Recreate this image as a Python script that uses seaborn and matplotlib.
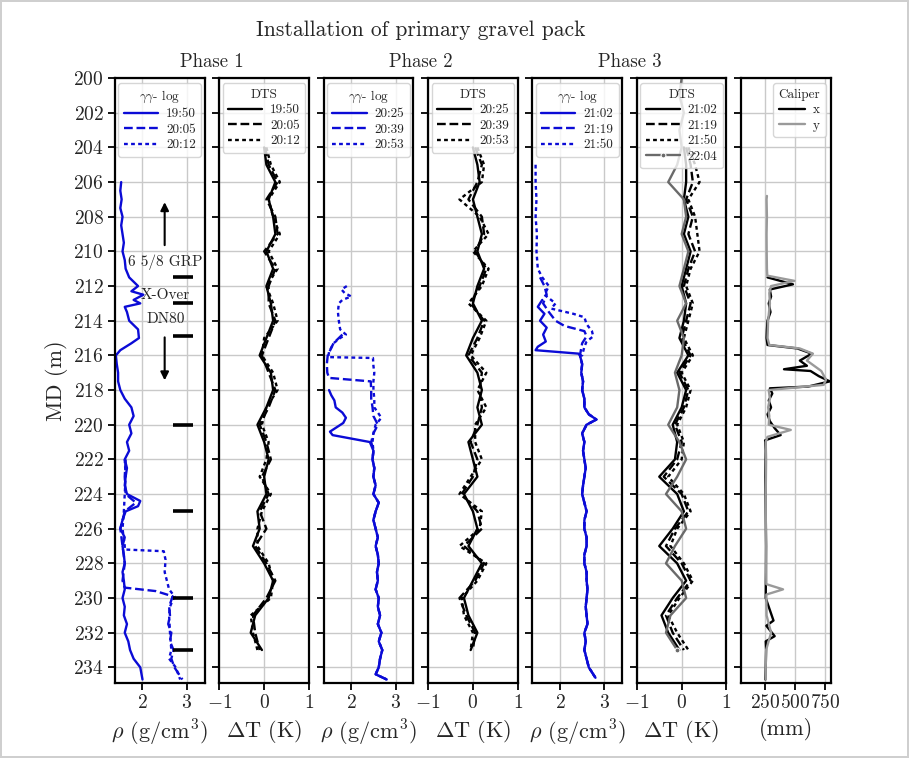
import numpy as np
import pandas as pd
import matplotlib
matplotlib.use("Agg")
import matplotlib.pyplot as plt
import seaborn as sns

# ---------------- data ----------------
md_ticks = list(range(200, 236, 2))

# Phase 1 density logs
p1_1950_md = [206, 206.5, 207, 207.5, 208, 208.5, 209, 209.5, 210, 210.5, 211, 211.5, 212, 212.3, 212.5,
              212.8, 213, 213.2, 213.5, 214, 214.5, 215, 215.3, 215.7, 216, 216.5, 217, 217.5, 218, 218.5,
              219, 219.5, 220, 220.5, 221, 221.5, 222, 222.5, 223, 223.5, 224, 224.4, 224.7, 225, 225.5,
              226, 226.5, 227, 227.5, 228, 228.5, 229, 229.5, 230, 230.5, 231, 231.5, 232, 232.5, 233,
              233.5, 234, 234.7]
p1_1950_rho = [1.52, 1.50, 1.53, 1.50, 1.55, 1.52, 1.55, 1.58, 1.55, 1.60, 1.62, 1.70, 1.90, 1.75, 2.02,
               1.80, 1.95, 1.60, 1.65, 1.70, 1.90, 1.92, 1.75, 1.50, 1.40, 1.42, 1.45, 1.45, 1.50, 1.60,
               1.75, 1.80, 1.70, 1.75, 1.65, 1.70, 1.60, 1.65, 1.62, 1.60, 1.65, 1.95, 1.90, 1.62, 1.55,
               1.50, 1.60, 1.55, 1.58, 1.60, 1.55, 1.58, 1.60, 1.55, 1.60, 1.58, 1.65, 1.60, 1.68, 1.72,
               1.80, 1.95, 2.00]
p1_2005_md = [222, 223, 224, 224.5, 225, 226, 227, 228, 229, 229.4, 229.6, 229.9, 230.5, 231, 231.5,
              232, 232.5, 233, 233.5, 234, 234.7]
p1_2005_rho = [1.62, 1.60, 1.62, 1.85, 1.60, 1.50, 1.55, 1.60, 1.55, 1.60, 2.30, 2.68, 2.60, 2.62, 2.58,
               2.65, 2.62, 2.70, 2.65, 2.72, 2.90]
p1_2012_md = [222, 223, 224, 225, 226, 227, 227.2, 227.3, 227.8, 228.5, 229, 229.5, 229.9, 230.5, 231,
              232, 233, 233.5, 234, 234.7]
p1_2012_rho = [1.60, 1.62, 1.60, 1.58, 1.55, 1.60, 1.60, 2.48, 2.52, 2.50, 2.55, 2.60, 2.72, 2.62, 2.60,
               2.62, 2.65, 2.60, 2.75, 2.85]

# Phase 2 density logs
p2_deep_md = [221.5, 222, 222.5, 223, 223.5, 224, 224.5, 225, 225.5, 226, 226.5, 227, 227.5, 228, 228.5,
              229, 229.5, 230, 230.5, 231, 231.5, 232, 232.5, 233, 233.5, 234, 234.4, 234.7]
p2_deep_rho = [2.50, 2.48, 2.52, 2.50, 2.55, 2.50, 2.62, 2.55, 2.50, 2.55, 2.60, 2.55, 2.60, 2.62, 2.58,
               2.60, 2.55, 2.62, 2.60, 2.65, 2.60, 2.68, 2.62, 2.70, 2.65, 2.62, 2.55, 2.80]
p2_2025_md = [218, 218.3, 218.6, 219, 219.3, 219.6, 219.9, 220.1, 220.4, 220.6, 221]
p2_2025_rho = [1.50, 1.55, 1.62, 1.65, 1.80, 1.88, 1.82, 1.70, 1.52, 1.58, 2.42]
p2_2039_md = [214.8, 215.3, 216, 216.5, 217, 217.3, 217.5, 218, 218.5, 219, 219.5, 220, 220.5, 221]
p2_2039_rho = [1.80, 1.60, 1.47, 1.45, 1.46, 1.50, 2.44, 2.45, 2.45, 2.48, 2.50, 2.60, 2.50, 2.45]
p2_2053_md = [212, 212.2, 212.4, 212.6, 212.8, 213, 213.5, 214, 214.5, 214.8, 215, 215.3, 215.8, 216.1,
              216.15, 216.6, 217, 217.5, 218, 218.5, 219, 219.6, 220, 220.5, 221]
p2_2053_rho = [1.90, 1.78, 1.85, 2.00, 1.80, 1.72, 1.70, 1.72, 1.75, 1.88, 1.75, 1.60, 1.50, 1.48,
               2.49, 2.50, 2.52, 2.50, 2.50, 2.52, 2.52, 2.68, 2.55, 2.50, 2.48]

# Phase 3 density logs
p3_deep_md = [216, 216.5, 217, 217.5, 218, 218.5, 219, 219.4, 219.7, 220, 220.5, 221, 221.5, 222, 222.5,
              223, 223.5, 224, 224.5, 225, 225.5, 226, 226.5, 227, 227.5, 228, 228.5, 229, 229.5, 230,
              230.5, 231, 231.5, 232, 232.5, 233, 233.5, 234, 234.6]
p3_deep_rho = [2.45, 2.50, 2.48, 2.52, 2.50, 2.55, 2.55, 2.65, 2.82, 2.60, 2.50, 2.55, 2.52, 2.55, 2.58,
               2.55, 2.52, 2.50, 2.55, 2.60, 2.55, 2.55, 2.60, 2.60, 2.55, 2.55, 2.60, 2.60, 2.62, 2.60,
               2.58, 2.60, 2.62, 2.55, 2.58, 2.55, 2.60, 2.65, 2.80]
p3_2102_md = [212.8, 213.2, 213.6, 214, 214.4, 214.8, 215.2, 215.5, 215.7, 215.9]
p3_2102_rho = [1.60, 1.50, 1.65, 1.55, 1.70, 1.62, 1.68, 1.50, 1.45, 2.42]
p3_2119_md = [211.5, 212, 212.5, 213, 213.5, 214, 214.3, 214.6, 214.9, 215.3, 216]
p3_2119_rho = [1.55, 1.65, 1.70, 1.62, 1.75, 1.90, 2.10, 2.55, 2.60, 2.50, 2.45]
p3_2150_md = [205, 206, 207, 208, 209, 210, 211, 211.5, 212, 212.5, 213, 213.3, 213.6, 213.8, 214.2,
              214.6, 214.9, 215.2, 215.5, 216]
p3_2150_rho = [1.45, 1.45, 1.47, 1.45, 1.48, 1.47, 1.50, 1.60, 1.75, 1.65, 1.90, 1.80, 2.30, 2.55, 2.60,
               2.72, 2.75, 2.60, 2.55, 2.50]

# DTS temperature differences
dts_md = list(range(204, 234))
p1_dts_1950 = [0.0, 0.05, 0.25, 0.1, 0.2, 0.25, 0.05, 0.2, 0.05, 0.15, 0.2, 0.05, -0.1, 0.15, 0.2,
               0.05, -0.15, 0.0, 0.1, 0.0, 0.05, -0.15, -0.1, -0.25, 0.0, 0.2, 0.1, -0.2, -0.3, -0.05]
p1_dts_2005 = [0.02, 0.1, 0.3, 0.05, 0.25, 0.3, 0.0, 0.25, 0.1, 0.1, 0.25, 0.1, -0.05, 0.1, 0.25,
               0.1, -0.1, 0.05, 0.15, -0.05, 0.1, -0.1, 0.05, -0.2, 0.05, 0.25, 0.05, -0.25, -0.2, -0.1]
p1_dts_2012 = [0.05, 0.15, 0.35, 0.1, 0.2, 0.35, 0.1, 0.3, 0.05, 0.2, 0.3, 0.0, -0.05, 0.2, 0.3,
               0.05, -0.05, 0.1, 0.05, -0.1, 0.15, -0.05, -0.15, -0.15, 0.1, 0.2, 0.15, -0.3, -0.25, -0.15]
p2_dts_2025 = [0.0, 0.1, 0.15, 0.0, 0.1, 0.2, 0.1, 0.25, 0.1, 0.0, 0.2, 0.0, -0.15, 0.1, 0.2,
               0.1, 0.2, -0.1, 0.0, 0.1, -0.2, 0.0, 0.1, -0.1, 0.2, 0.0, -0.2, -0.1, 0.1, -0.05]
p2_dts_2039 = [0.05, 0.2, 0.1, -0.1, 0.2, 0.25, 0.05, 0.3, 0.15, -0.05, 0.25, 0.1, -0.1, 0.2, 0.15,
               0.2, 0.1, -0.05, 0.1, 0.0, -0.25, 0.1, 0.2, -0.2, 0.25, 0.05, -0.3, -0.15, 0.05, 0.0]
p2_dts_2053 = [0.1, 0.25, 0.2, -0.3, 0.15, 0.35, 0.0, 0.35, 0.2, -0.1, 0.3, 0.15, -0.05, 0.3, 0.1,
               0.3, 0.05, 0.05, 0.2, -0.05, -0.3, 0.2, 0.15, -0.3, 0.3, 0.1, -0.25, -0.2, 0.0, -0.05]
p3_dts_2102 = [0.05, 0.1, 0.1, 0.05, 0.15, 0.05, 0.2, 0.1, 0.0, 0.1, 0.05, -0.05, 0.15, -0.1, 0.1,
               0.0, -0.2, -0.1, -0.15, -0.5, -0.1, 0.05, -0.2, -0.5, -0.1, 0.1, -0.2, -0.45, -0.3, -0.05]
p3_dts_2119 = [0.1, 0.2, 0.25, 0.1, 0.25, 0.15, 0.3, 0.15, 0.05, 0.2, 0.1, 0.0, 0.2, -0.05, 0.15,
               0.05, -0.15, 0.0, -0.1, -0.4, 0.0, 0.15, -0.15, -0.35, 0.0, 0.2, -0.1, -0.35, -0.2, 0.05]
p3_dts_2150 = [0.15, 0.3, 0.4, 0.15, 0.3, 0.35, 0.4, 0.2, 0.1, 0.25, 0.15, 0.05, 0.25, 0.0, 0.2,
               0.1, -0.1, 0.05, 0.0, -0.3, 0.05, 0.2, -0.1, -0.25, 0.05, 0.25, -0.05, -0.3, -0.1, 0.15]
p3_dts_2204_md = list(range(200, 234))
p3_dts_2204 = [0.0, -0.05, 0.05, -0.05, 0.0, -0.1, -0.3, 0.05, 0.1, 0.0, 0.15, 0.05, -0.05, 0.1, -0.1,
               0.05, 0.0, -0.15, -0.05, -0.1, -0.3, -0.05, 0.1, -0.1, -0.35, 0.0, 0.1, -0.15, -0.35, 0.0,
               0.1, -0.25, -0.35, -0.1]

# Caliper
cal_y_md = [206.8, 207, 208, 209, 210, 211, 211.4, 211.7, 212.0, 212.4, 213, 214, 215, 215.4, 215.6,
            215.9, 216.3, 216.9, 217.4, 217.7, 218.0, 218.5, 219, 219.5, 220.0, 220.3, 220.7, 221, 222,
            224, 226, 228, 229.2, 229.5, 229.8, 231, 232, 233, 234, 234.7]
cal_y_mm = [265, 262, 265, 262, 263, 265, 268, 495, 300, 285, 290, 275, 270, 285, 540,
            650, 600, 720, 760, 740, 280, 290, 275, 285, 280, 465, 270, 255, 258,
            255, 256, 258, 260, 400, 260, 262, 300, 258, 255, 255]
cal_x_md = [211.5, 211.9, 212.2, 212.6, 213, 213.5, 214, 214.5, 215, 215.4, 215.6, 215.9, 216.3, 216.6,
            216.8, 216.9, 217.2, 217.5, 217.8, 217.9, 218.2, 218.6, 219, 219.4, 219.8, 220.2, 220.6,
            220.9, 221.5, 223, 225, 227, 229, 230, 231.3, 231.6, 232.2, 232.5, 233, 234, 234.7]
cal_x_mm = [270, 483, 289, 300, 280, 295, 270, 265, 262, 270, 520, 640, 541, 600,
            408, 630, 700, 791, 610, 290, 310, 280, 300, 270, 290, 330, 380,
            250, 255, 252, 255, 258, 256, 255, 320, 260, 330, 255, 258, 255, 252]

# annotations
marker_md = [211.5, 213.0, 214.9, 220, 225, 230, 233]
annot_labels = ["6 5/8 GRP", "X-Over", "DN80"]
annot_md = [210.6, 212.5, 213.9]

# ---------------- style ----------------
sns.set_theme(style="ticks")
plt.rcParams.update({
    "font.family": ["cmr10", "DejaVu Serif"],
    "mathtext.fontset": "cm",
    "axes.formatter.use_mathtext": True,
    "axes.unicode_minus": True,
})

BLUE = "#0b0bd6"
DOT = (0, (1.6, 1.4))
LW = 1.7
fig, axes = plt.subplots(1, 7, figsize=(9.09, 7.58), dpi=100, sharey=True)
fig.subplots_adjust(left=0.1265, right=0.914, top=0.897, bottom=0.099, wspace=0.165)
fig.patch.set_edgecolor("#cfcfcf")
fig.patch.set_linewidth(1.5)


def draw(ax, x, y, color, ls="-", label=None, lw=LW, **kw):
    df = pd.DataFrame({"v": x, "md": y})
    sns.lineplot(data=df, x="v", y="md", orient="y", sort=False, estimator=None,
                 color=color, linestyle=ls, lw=lw, label=label, ax=ax, **kw)


rho_axes = [axes[0], axes[2], axes[4]]
dts_axes = [axes[1], axes[3], axes[5]]

# Phase 1
draw(axes[0], p1_1950_rho, p1_1950_md, BLUE, "-", "19:50")
draw(axes[0], p1_2005_rho, p1_2005_md, BLUE, "--", "20:05")
draw(axes[0], p1_2012_rho, p1_2012_md, BLUE, DOT, "20:12")
draw(axes[1], p1_dts_1950, dts_md, "black", "-", "19:50")
draw(axes[1], p1_dts_2005, dts_md, "black", "--", "20:05")
draw(axes[1], p1_dts_2012, dts_md, "black", DOT, "20:12")
# Phase 2
draw(axes[2], p2_2025_rho + p2_deep_rho, p2_2025_md + p2_deep_md, BLUE, "-", "20:25")
draw(axes[2], p2_2039_rho + p2_deep_rho, p2_2039_md + p2_deep_md, BLUE, "--", "20:39")
draw(axes[2], p2_2053_rho + p2_deep_rho, p2_2053_md + p2_deep_md, BLUE, DOT, "20:53")
draw(axes[3], p2_dts_2025, dts_md, "black", "-", "20:25")
draw(axes[3], p2_dts_2039, dts_md, "black", "--", "20:39")
draw(axes[3], p2_dts_2053, dts_md, "black", DOT, "20:53")
# Phase 3
draw(axes[4], p3_2102_rho + p3_deep_rho, p3_2102_md + p3_deep_md, BLUE, "-", "21:02")
draw(axes[4], p3_2119_rho + p3_deep_rho, p3_2119_md + p3_deep_md, BLUE, "--", "21:19")
draw(axes[4], p3_2150_rho + p3_deep_rho, p3_2150_md + p3_deep_md, BLUE, DOT, "21:50")
draw(axes[5], p3_dts_2102, dts_md, "black", "-", "21:02")
draw(axes[5], p3_dts_2119, dts_md, "black", "--", "21:19")
draw(axes[5], p3_dts_2150, dts_md, "black", DOT, "21:50")
draw(axes[5], p3_dts_2204, p3_dts_2204_md, "#6a6a6a", "-", "22:04",
     marker="o", markersize=3.5, markevery=[len(p3_dts_2204) - 1])
# Caliper
draw(axes[6], cal_x_mm, cal_x_md, "black", "-", "x")
draw(axes[6], cal_y_mm, cal_y_md, "#9a9a9a", "-", "y")

# markers & annotations in panel 1
for m in marker_md:
    axes[0].plot([2.68, 3.14], [m, m], color="black", lw=2.6, solid_capstyle="butt")
for t, m in zip(annot_labels, annot_md):
    axes[0].text(2.52, m, t, ha="center", va="center", fontsize=11)
axes[0].annotate("", xy=(2.5, 207.0), xytext=(2.5, 209.8),
                 arrowprops=dict(arrowstyle="-|>", color="black", lw=1.5, mutation_scale=12))
axes[0].annotate("", xy=(2.5, 217.6), xytext=(2.5, 214.8),
                 arrowprops=dict(arrowstyle="-|>", color="black", lw=1.5, mutation_scale=12))

# axes formatting
for ax in axes:
    ax.set_ylim(234.9, 200)
    ax.set_yticks(md_ticks)
    ax.grid(True, color="#c9c9c9", lw=1.0)
    for s in ax.spines.values():
        s.set_linewidth(1.6)
        s.set_color("black")
    ax.tick_params(direction="out", length=5, width=1.3, labelsize=14, color="black", pad=3)
    ax.set_ylabel("")

for ax in rho_axes:
    ax.set_xlim(1.38, 3.4)
    ax.set_xticks([2, 3])
    ax.set_xlabel(r"$\rho$ (g/cm$^3$)", fontsize=16)
for ax in dts_axes:
    ax.set_xlim(-1, 1)
    ax.set_xticks([-1, 0, 1])
    ax.set_xlabel(r"$\Delta$T (K)", fontsize=16)
axes[6].set_xlim(50, 800)
axes[6].set_xticks([250, 500, 750])
axes[6].set_xlabel("(mm)", fontsize=16)

axes[0].set_ylabel("MD (m)", fontsize=16)
for ax in axes[1:]:
    ax.tick_params(axis="y", labelleft=False)

leg_kw = dict(loc="upper center", fontsize=9.5, title_fontsize=9.5, framealpha=0.8,
              handlelength=2.6, borderaxespad=0.4, labelspacing=0.25, handletextpad=0.6)
for ax in rho_axes:
    ax.legend(title=r"$\gamma\gamma$- log", **leg_kw)
for ax in dts_axes:
    ax.legend(title="DTS", **leg_kw)
axes[6].legend(title="Caliper", **dict(leg_kw, loc="upper right", handlelength=2.0))

# phase titles
for i, name in enumerate(["Phase 1", "Phase 2", "Phase 3"]):
    l = axes[2 * i].get_position().x0
    r = axes[2 * i + 1].get_position().x1
    fig.text((l + r) / 2, 0.906, name, ha="center", va="bottom", fontsize=13.5)
l = axes[0].get_position().x0
r = axes[5].get_position().x1
fig.text((l + r) / 2, 0.947, "Installation of primary gravel pack", ha="center", va="bottom", fontsize=15.5)

fig.savefig("out.png", dpi=100)
